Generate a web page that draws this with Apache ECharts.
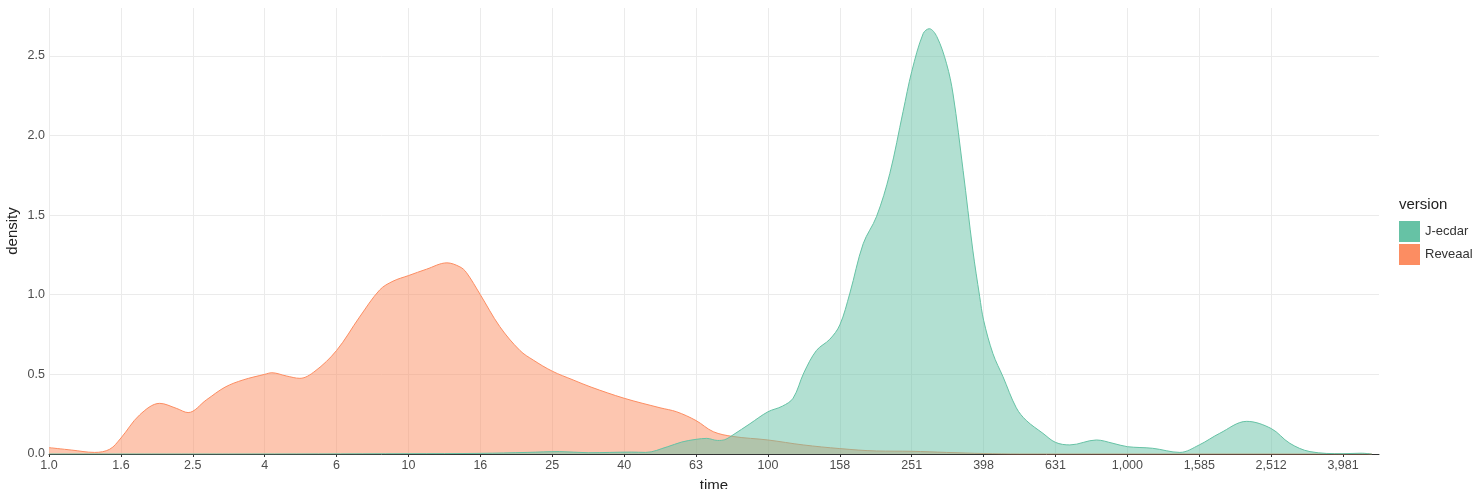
<!DOCTYPE html>
<html>
<head>
<meta charset="utf-8">
<script src="https://cdn.jsdelivr.net/npm/echarts@6/dist/echarts.min.js"></script>
<style>
html,body{margin:0;padding:0;background:#fff;}
#chart{width:1480px;height:489px;}
</style>
</head>
<body>
<div id="chart"></div>
<script>
// x values are log10(time)
const tickLabels = ['1.0','1.6','2.5','4','6','10','16','25','40','63','100','158','251','398','631','1,000','1,585','2,512','3,981'];
const tickLogs = [0,0.2,0.4,0.6,0.8,1.0,1.2,1.4,1.6,1.8,2.0,2.2,2.4,2.6,2.8,3.0,3.2,3.4,3.6];

const reveaalLog = [0,0.062,0.127,0.169,0.2,0.252,0.308,0.354,0.387,0.438,0.49,0.54,0.6,0.62,0.66,0.698,0.74,0.8,0.864,0.92,0.957,1.0,1.05,1.107,1.143,1.161,1.2,1.254,1.31,1.347,1.4,1.458,1.508,1.6,1.7,1.746,1.8,1.848,1.903,2.0,2.098,2.2,2.302,2.4,2.497,2.6,2.7,2.9,3.2,3.5,3.68];
const reveaalDensity = [0.04,0.025,0.01,0.03,0.10,0.245,0.318,0.287,0.26,0.34,0.42,0.465,0.50,0.51,0.49,0.475,0.52,0.65,0.86,1.03,1.085,1.12,1.16,1.20,1.175,1.14,1.0,0.80,0.65,0.59,0.52,0.465,0.42,0.35,0.29,0.265,0.21,0.14,0.11,0.088,0.057,0.034,0.019,0.017,0.01,0.003,0,0,0,0,0];

const jecdarLog = [0,0.5,1.0,1.2,1.33,1.42,1.5,1.62,1.66,1.72,1.76,1.8,1.83,1.86,1.88,1.903,1.95,2.0,2.04,2.07,2.10,2.135,2.172,2.2,2.228,2.265,2.302,2.339,2.376,2.4,2.432,2.449,2.47,2.497,2.515,2.543,2.57,2.589,2.6,2.626,2.654,2.691,2.719,2.765,2.8,2.84,2.914,2.96,3.0,3.07,3.146,3.2,3.257,3.332,3.4,3.452,3.508,3.6,3.65,3.68];
const jecdarDensity = [0,0,0.002,0.004,0.01,0.015,0.008,0.012,0.01,0.045,0.075,0.092,0.098,0.085,0.09,0.12,0.19,0.265,0.30,0.35,0.51,0.65,0.72,0.81,1.01,1.32,1.49,1.76,2.15,2.40,2.64,2.67,2.62,2.45,2.26,1.78,1.28,0.99,0.84,0.63,0.485,0.29,0.21,0.13,0.073,0.057,0.088,0.067,0.046,0.036,0.01,0.057,0.13,0.205,0.16,0.067,0.015,0.002,0.005,0];

const seriesNames = ['J-ecdar','Reveaal'];
const seriesColors = ['#66c2a5','#fc8d62'];

const FONT = "'Liberation Sans', Arial, sans-serif";
const chart = echarts.init(document.getElementById('chart'), null, {renderer:'canvas'});

function pairs(xs, ys){ return xs.map((x,i)=>[x, ys[i]]); }

chart.setOption({
  animation: false,
  backgroundColor: '#ffffff',
  grid: {left: 49, top: 8, width: 1330, height: 446, containLabel: false, outerBoundsMode: 'none'},
  xAxis: {
    type: 'value', min: 0, max: 3.7, interval: 0.2,
    name: 'time', nameLocation: 'middle', nameGap: 24, nameMoveOverlap: false,
    nameTextStyle: {fontFamily: FONT, fontSize: 15, color: '#222'},
    axisLine: {show: true, lineStyle: {color: '#333', width: 1}},
    axisTick: {show: true, length: 3, lineStyle: {color: '#333'}, customValues: tickLogs},
    axisLabel: {
      customValues: tickLogs,
      margin: 5, fontFamily: FONT, fontSize: 12.5, color: '#4d4d4d',
      formatter: v => { const i = tickLogs.findIndex(t => Math.abs(t - v) < 1e-6); return i >= 0 ? tickLabels[i] : ''; }
    },
    splitLine: {show: true, showMaxLine: false, lineStyle: {color: '#ebebeb', width: 1}}
  },
  yAxis: {
    type: 'value', min: 0, max: 2.8, interval: 0.5,
    name: 'density', nameLocation: 'middle', nameGap: 29, nameRotate: 90, nameMoveOverlap: false,
    nameTextStyle: {fontFamily: FONT, fontSize: 15, color: '#222'},
    axisLine: {show: false}, axisTick: {show: false},
    axisLabel: {margin: 4, fontFamily: FONT, fontSize: 12.5, color: '#4d4d4d', showMaxLabel: false,
      formatter: v => v.toFixed(1)},
    splitLine: {show: true, showMaxLine: false, lineStyle: {color: '#ebebeb', width: 1}}
  },
  legend: {
    orient: 'vertical', left: 1399, top: 221, padding: 0,
    itemWidth: 21, itemHeight: 21, itemGap: 2, icon: 'rect',
    textStyle: {fontFamily: FONT, fontSize: 13, color: '#333'},
    data: seriesNames.map((n,i)=>({name: n, itemStyle: {color: seriesColors[i], opacity: 1}}))
  },
  graphic: [{
    type: 'text', left: 1399, top: 197,
    style: {text: 'version', fontFamily: FONT, fontSize: 15, fill: '#222'}
  }],
  series: [
    {
      name: seriesNames[1], type: 'line', data: pairs(reveaalLog, reveaalDensity),
      showSymbol: false, smooth: 0.35, z: 2,
      lineStyle: {color: seriesColors[1], width: 1},
      itemStyle: {color: seriesColors[1]},
      areaStyle: {color: seriesColors[1], opacity: 0.5}
    },
    {
      name: seriesNames[0], type: 'line', data: pairs(jecdarLog, jecdarDensity),
      showSymbol: false, smooth: 0.35, z: 3,
      lineStyle: {color: seriesColors[0], width: 1},
      itemStyle: {color: seriesColors[0]},
      areaStyle: {color: seriesColors[0], opacity: 0.5}
    }
  ]
});
</script>
</body>
</html>
